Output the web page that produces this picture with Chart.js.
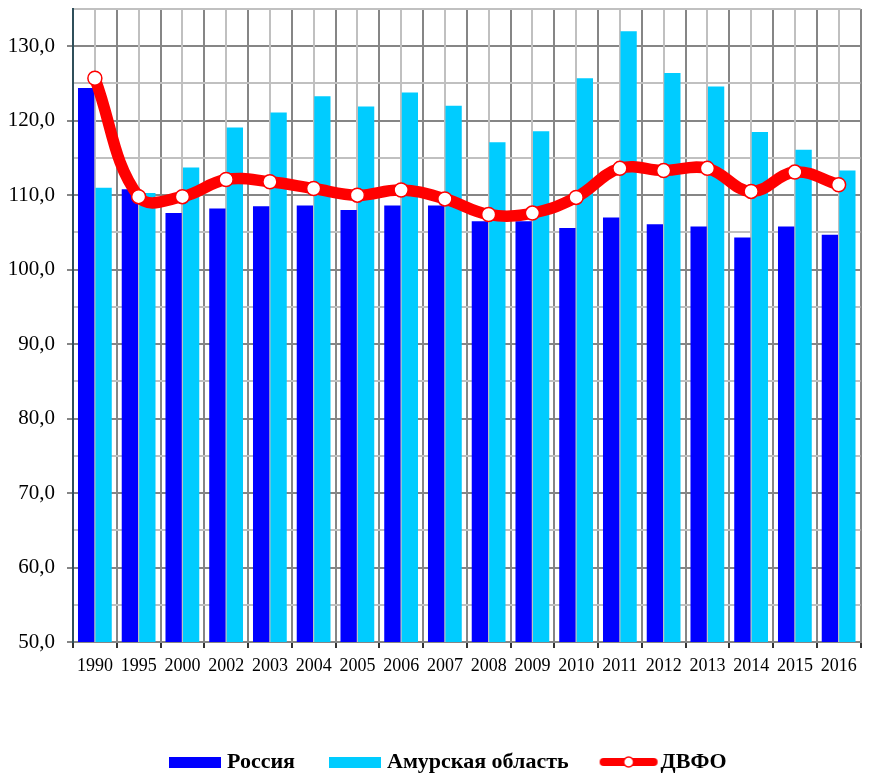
<!DOCTYPE html>
<html>
<head>
<meta charset="utf-8">
<script src="https://cdn.jsdelivr.net/npm/chart.js@4/dist/chart.umd.min.js"></script>
<style>
  html, body { margin: 0; padding: 0; background: #ffffff; }
  #wrap { width: 869px; height: 773px; }
</style>
</head>
<body>
<div id="wrap"><canvas id="c" width="869" height="773"></canvas></div>
<script>
// ---- data ----
const years = ['1990','1995','2000','2002','2003','2004','2005','2006','2007','2008','2009','2010','2011','2012','2013','2014','2015','2016'];
const russia = [124.4,110.8,107.6,108.2,108.5,108.6,108.0,108.6,108.6,106.5,106.5,105.6,107.0,106.1,105.8,104.3,105.8,104.7];
const amur   = [111.0,110.3,113.7,119.1,121.1,123.3,121.9,123.8,122.0,117.1,118.6,125.7,132.0,126.4,124.6,118.5,116.1,113.3];
const dvfo   = [125.7,109.8,109.8,112.1,111.8,110.9,110.0,110.7,109.5,107.4,107.6,109.7,113.6,113.3,113.6,110.5,113.1,111.4];
const seriesNames = ['Россия', 'Амурская область', 'ДВФО'];
const yMajorTicks = [50,60,70,80,90,100,110,120,130];

const C_RUS = '#0000FF', C_AMUR = '#00CCFF', C_DV = '#FF0000';
const GRID_DARK = '#868686', GRID_LIGHT = '#C0C0C0';

function fmt(v) { return v.toFixed(1).replace('.', ','); }

// legend symbols
function boxImg(color) {
  const cv = document.createElement('canvas');
  cv.width = 52; cv.height = 11;
  const g = cv.getContext('2d');
  g.fillStyle = color; g.fillRect(0, 0, 52, 11);
  return cv;
}
function lineImg() {
  const cv = document.createElement('canvas');
  cv.width = 62; cv.height = 14;
  const g = cv.getContext('2d');
  g.strokeStyle = C_DV; g.lineWidth = 8; g.lineCap = 'round';
  g.beginPath(); g.moveTo(6, 7); g.lineTo(56, 7); g.stroke();
  g.beginPath(); g.arc(31, 7, 5, 0, Math.PI * 2);
  g.fillStyle = '#ffffff'; g.fill();
  g.lineWidth = 1.5; g.strokeStyle = C_DV; g.stroke();
  return cv;
}
const legendImgs = [boxImg(C_RUS), boxImg(C_AMUR), lineImg()];

const tweak = {
  id: 'tweak',
  afterLayout(chart) {
    const lg = chart.legend;
    if (!lg) return;
    const h = lg.height;
    lg.left = 135; lg.right = 869; lg.width = 869 - 135;
    lg.top = 712; lg.bottom = 712 + h;
  },
  beforeDatasetsDraw(chart) {
    const { ctx, chartArea, scales } = chart;
    const xs = scales.x;
    ctx.save();
    ctx.strokeStyle = GRID_LIGHT;
    ctx.lineWidth = 2;
    for (let i = 0; i < years.length; i++) {
      const x = Math.round(xs.getPixelForValue(i));
      ctx.beginPath();
      ctx.moveTo(x, chartArea.top);
      ctx.lineTo(x, chartArea.bottom);
      ctx.stroke();
    }
    ctx.restore();
  }
};

const chart = new Chart(document.getElementById('c'), {
  data: {
    labels: years,
    datasets: [
      { type: 'bar', label: seriesNames[0], data: russia, backgroundColor: C_RUS, borderWidth: 0,
        categoryPercentage: 0.8, barPercentage: 0.93, order: 1 },
      { type: 'bar', label: seriesNames[1], data: amur, backgroundColor: C_AMUR, borderWidth: 0,
        categoryPercentage: 0.8, barPercentage: 0.93, order: 1 },
      { type: 'line', label: seriesNames[2], data: dvfo, borderColor: C_DV, borderWidth: 11.5,
        tension: 0.4, fill: false, pointRadius: 7, pointHoverRadius: 7,
        pointBackgroundColor: '#ffffff', pointBorderColor: C_DV, pointBorderWidth: 1.5, order: 0 }
    ]
  },
  options: {
    responsive: false,
    animation: false,
    devicePixelRatio: 1,
    layout: { padding: { top: 9, left: 0, right: 0, bottom: 0 } },
    plugins: {
      tooltip: { enabled: false },
      legend: {
        display: true,
        position: 'bottom',
        align: 'start',
        labels: {
          usePointStyle: true,
          pointStyleWidth: 42,
          padding: 39,
          color: '#000000',
          font: { family: "'Liberation Serif', 'Times New Roman', serif", size: 22, weight: 'bold' },
          generateLabels(chart) {
            return seriesNames.map((name, i) => ({
              text: name,
              pointStyle: legendImgs[i],
              fillStyle: 'rgba(0,0,0,0)',
              strokeStyle: 'rgba(0,0,0,0)',
              lineWidth: 0,
              hidden: false,
              datasetIndex: i
            }));
          }
        }
      }
    },
    scales: {
      x: {
        type: 'category',
        offset: true,
        grid: { offset: true, color: GRID_DARK, lineWidth: 2, tickLength: 6, tickColor: '#333333' },
        border: { color: GRID_DARK, width: 2 },
        ticks: {
          color: '#000000', padding: 7, maxRotation: 0, autoSkip: false,
          font: { family: "'Liberation Serif', 'Times New Roman', serif", size: 18 }
        },
        afterFit(s) {
          const lh = (s.chart.legend && s.chart.legend.height) ? s.chart.legend.height : 70;
          s.height = 773 - 642 - lh; s.paddingLeft = 0; s.paddingRight = 0;
        }
      },
      y: {
        type: 'linear',
        min: 50, max: 135,
        grid: {
          lineWidth: 2,
          tickLength: 6,
          color: (c) => (c.tick && yMajorTicks.includes(c.tick.value)) ? GRID_DARK : GRID_LIGHT,
          tickColor: (c) => (c.tick && yMajorTicks.includes(c.tick.value)) ? GRID_DARK : 'rgba(0,0,0,0)'
        },
        border: { color: '#2F4F5A', width: 2 },
        ticks: {
          stepSize: 5, autoSkip: false, padding: 12, color: '#000000',
          font: { family: "'Liberation Serif', 'Times New Roman', serif", size: 21 },
          callback: (v) => yMajorTicks.includes(v) ? fmt(v) : ''
        },
        afterFit(s) { s.width = 73; s.paddingTop = 0; s.paddingBottom = 0; }
      }
    }
  },
  plugins: [tweak]
});
</script>
</body>
</html>
